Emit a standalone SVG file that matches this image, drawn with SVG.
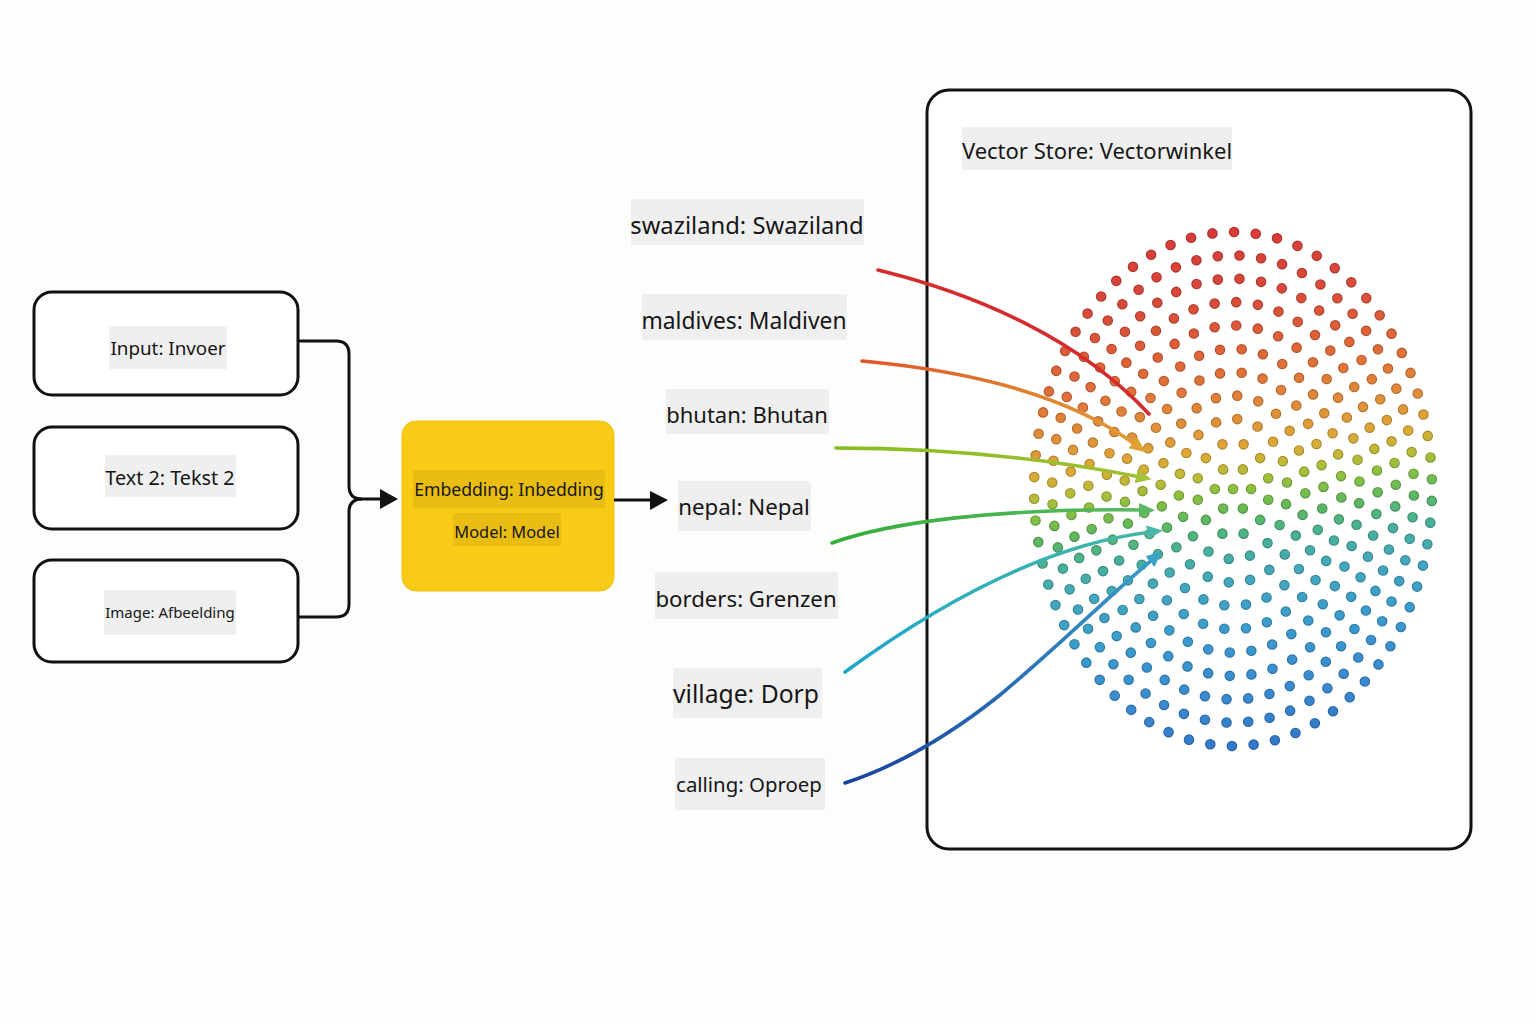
<svg xmlns="http://www.w3.org/2000/svg" xmlns:xlink="http://www.w3.org/1999/xlink" width="1536" height="1024" viewBox="0 0 1536 1024">
<style>
.box{fill:#fff;stroke:#111;stroke-width:3}
.bg{fill:#efefef}
.t{font-family:"Noto Sans","Open Sans","DejaVu Sans",sans-serif;fill:#161616;text-anchor:middle}
.conn{fill:none;stroke:#111;stroke-width:3}
.cl{fill:none;stroke-width:3.6;stroke-linecap:round}
</style>
<defs>
<linearGradient id="cloudGrad" gradientUnits="userSpaceOnUse" x1="1200" y1="220" x2="1268" y2="760">
<stop offset="0" stop-color="#d83838"/>
<stop offset="0.15" stop-color="#d84a3a"/>
<stop offset="0.27" stop-color="#e06a38"/>
<stop offset="0.36" stop-color="#e08c3a"/>
<stop offset="0.43" stop-color="#dcaa36"/>
<stop offset="0.47" stop-color="#b8bc38"/>
<stop offset="0.5" stop-color="#8cc040"/>
<stop offset="0.55" stop-color="#5cb860"/>
<stop offset="0.6" stop-color="#48b098"/>
<stop offset="0.66" stop-color="#44a8bc"/>
<stop offset="0.75" stop-color="#3a9ccc"/>
<stop offset="0.88" stop-color="#3a88d0"/>
<stop offset="1" stop-color="#2e74c8"/>
</linearGradient>
<g id="rings" fill="none" stroke-linecap="round">
<ellipse cx="1233" cy="489" rx="18.1" ry="23.4" pathLength="6" stroke-dasharray="0 1" stroke-dashoffset="0"/>
<ellipse cx="1233" cy="489" rx="36.2" ry="46.7" pathLength="12" stroke-dasharray="0 1" stroke-dashoffset="0.5"/>
<ellipse cx="1233" cy="489" rx="54.3" ry="70.1" pathLength="18" stroke-dasharray="0 1" stroke-dashoffset="0.3"/>
<ellipse cx="1233" cy="489" rx="72.4" ry="93.5" pathLength="24" stroke-dasharray="0 1" stroke-dashoffset="0.8"/>
<ellipse cx="1233" cy="489" rx="90.5" ry="116.8" pathLength="30" stroke-dasharray="0 1" stroke-dashoffset="0.1"/>
<ellipse cx="1233" cy="489" rx="108.5" ry="140.2" pathLength="36" stroke-dasharray="0 1" stroke-dashoffset="0.6"/>
<ellipse cx="1233" cy="489" rx="126.6" ry="163.5" pathLength="42" stroke-dasharray="0 1" stroke-dashoffset="0.35"/>
<ellipse cx="1233" cy="489" rx="144.7" ry="186.9" pathLength="48" stroke-dasharray="0 1" stroke-dashoffset="0.85"/>
<ellipse cx="1233" cy="489" rx="162.8" ry="210.3" pathLength="54" stroke-dasharray="0 1" stroke-dashoffset="0.2"/>
<ellipse cx="1233" cy="489" rx="180.9" ry="233.6" pathLength="60" stroke-dasharray="0 1" stroke-dashoffset="0.7"/>
<ellipse cx="1233" cy="489" rx="199" ry="257" pathLength="66" stroke-dasharray="0 1" stroke-dashoffset="0.45"/>
</g>
<mask id="mOuter" maskUnits="userSpaceOnUse" x="0" y="0" width="1536" height="1024">
<use xlink:href="#rings" href="#rings" stroke="#fff" stroke-width="10.6"/>
<circle cx="1233" cy="489" r="5.3" fill="#fff"/>
</mask>
<mask id="mInner" maskUnits="userSpaceOnUse" x="0" y="0" width="1536" height="1024">
<use xlink:href="#rings" href="#rings" stroke="#fff" stroke-width="8.4"/>
<circle cx="1233" cy="489" r="4.2" fill="#fff"/>
</mask>
<linearGradient id="gOr" gradientUnits="userSpaceOnUse" x1="862" y1="361" x2="1146" y2="452"><stop offset="0" stop-color="#e0552a"/><stop offset="1" stop-color="#e0a032"/></linearGradient>
<linearGradient id="gYg" gradientUnits="userSpaceOnUse" x1="836" y1="448" x2="1152" y2="479"><stop offset="0" stop-color="#86bc1e"/><stop offset="1" stop-color="#a2c034"/></linearGradient>
<linearGradient id="gGr" gradientUnits="userSpaceOnUse" x1="832" y1="543" x2="1155" y2="510"><stop offset="0" stop-color="#34ae3c"/><stop offset="1" stop-color="#5cb860"/></linearGradient>
<linearGradient id="gTe" gradientUnits="userSpaceOnUse" x1="845" y1="672" x2="1163" y2="530"><stop offset="0" stop-color="#1ea6cc"/><stop offset="1" stop-color="#48b8a4"/></linearGradient>
<linearGradient id="gBl" gradientUnits="userSpaceOnUse" x1="845" y1="783" x2="1162" y2="551"><stop offset="0" stop-color="#16409e"/><stop offset="1" stop-color="#3aa0cc"/></linearGradient>
<marker id="aOr" markerUnits="userSpaceOnUse" markerWidth="18" markerHeight="16" refX="4" refY="8" orient="auto"><path d="M0,1 L16,8 L0,15 Z" fill="#e0a032"/></marker>
<marker id="aYg" markerUnits="userSpaceOnUse" markerWidth="18" markerHeight="16" refX="4" refY="8" orient="auto"><path d="M0,1 L16,8 L0,15 Z" fill="#a6c03a"/></marker>
<marker id="aGr" markerUnits="userSpaceOnUse" markerWidth="18" markerHeight="16" refX="4" refY="8" orient="auto"><path d="M0,1 L16,8 L0,15 Z" fill="#5cb860"/></marker>
<marker id="aTe" markerUnits="userSpaceOnUse" markerWidth="18" markerHeight="16" refX="4" refY="8" orient="auto"><path d="M0,1 L16,8 L0,15 Z" fill="#4ab8a8"/></marker>
<marker id="aBl" markerUnits="userSpaceOnUse" markerWidth="18" markerHeight="16" refX="4" refY="8" orient="auto"><path d="M0,1 L16,8 L0,15 Z" fill="#3aa4c8"/></marker>
</defs>
<rect x="0" y="0" width="1536" height="1024" fill="#fdfdfb"/>

<g id="input-input">
<rect class="box" x="34" y="292" width="264" height="103" rx="18"/>
<rect class="bg" x="109" y="326" width="118" height="43"/>
<text class="t" x="168" y="355" font-size="18.8">Input: Invoer</text>
</g>
<g id="input-text2">
<rect class="box" x="34" y="427" width="264" height="102" rx="18"/>
<rect class="bg" x="105" y="455" width="131" height="42"/>
<text class="t" x="170" y="485" font-size="19.8">Text 2: Tekst 2</text>
</g>
<g id="input-image">
<rect class="box" x="34" y="560" width="264" height="102" rx="18"/>
<rect class="bg" x="104" y="590" width="132" height="45"/>
<text class="t" x="170" y="618" font-size="15">Image: Afbeelding</text>
</g>

<g id="embedding-model">
<rect x="402" y="421" width="212" height="170" rx="14" fill="#f7cb16" stroke="#efc010" stroke-width="1"/>
<rect x="413" y="470" width="192" height="38" fill="#e9bd12"/>
<text class="t" x="509" y="496" font-size="17.6">Embedding: Inbedding</text>
<rect x="453" y="513" width="108" height="33" fill="#e9bd12"/>
<text class="t" x="507" y="538" font-size="16.4">Model: Model</text>
</g>

<g id="vector-store">
<rect class="box" x="927" y="90" width="544" height="759" rx="22"/>
<rect class="bg" x="962" y="127" width="270" height="43"/>
<text class="t" x="1097" y="159" font-size="22">Vector Store: Vectorwinkel</text>
</g>

<g id="words">
<g id="w-swaziland"><rect class="bg" x="631" y="199" width="233" height="46"/><text class="t" x="747" y="234" font-size="23.8">swaziland: Swaziland</text></g>
<g id="w-maldives"><rect class="bg" x="642" y="294" width="205" height="46"/><text class="t" x="744" y="329" font-size="22.8">maldives: Maldiven</text></g>
<g id="w-bhutan"><rect class="bg" x="666" y="389" width="163" height="45"/><text class="t" x="747" y="423" font-size="22">bhutan: Bhutan</text></g>
<g id="w-nepal"><rect class="bg" x="678" y="481" width="133" height="50"/><text class="t" x="744" y="515" font-size="22.3">nepal: Nepal</text></g>
<g id="w-borders"><rect class="bg" x="655" y="572" width="183" height="47"/><text class="t" x="746" y="607" font-size="22.2">borders: Grenzen</text></g>
<g id="w-village"><rect class="bg" x="673" y="668" width="149" height="50"/><text class="t" x="746" y="703" font-size="24.7">village: Dorp</text></g>
<g id="w-calling"><rect class="bg" x="675" y="758" width="150" height="52"/><text class="t" x="749" y="792" font-size="20.4">calling: Oproep</text></g>
</g>

<g id="cloud">
<g mask="url(#mOuter)">
<rect x="1000" y="200" width="480" height="580" fill="url(#cloudGrad)"/>
<rect x="1000" y="200" width="480" height="580" fill="#000" opacity="0.2"/>
</g>
<rect x="1000" y="200" width="480" height="580" fill="url(#cloudGrad)" mask="url(#mInner)"/>
</g>

<g id="connectors">
<path class="conn" d="M298,341 H336 Q349,341 349,354 V486 Q349,499 362,499 H384"/>
<path class="conn" d="M298,617 H336 Q349,617 349,604 V512 Q349,499 362,499"/>
<polygon points="380,489 398,499 380,509" fill="#111"/>
<path class="conn" d="M614,500 H653"/>
<polygon points="650,491 668,500 650,510" fill="#111"/>

<path class="cl" d="M878,270 C980,295 1080,340 1149,414" stroke="#d42c2c"/>
<path class="cl" d="M862,361 C960,370 1066,393 1136,445" stroke="url(#gOr)" marker-end="url(#aOr)"/>
<path class="cl" d="M836,448 C950,448 1055,460 1140,477" stroke="url(#gYg)" marker-end="url(#aYg)"/>
<path class="cl" d="M832,543 C890,522 1000,508 1143,510" stroke="url(#gGr)" marker-end="url(#aGr)"/>
<path class="cl" d="M845,672 C930,610 1040,545 1151,532" stroke="url(#gTe)" marker-end="url(#aTe)"/>
<path class="cl" d="M845,783 C900,765 950,735 1000,695 C1060,645 1110,595 1153,559" stroke="url(#gBl)" marker-end="url(#aBl)"/>
</g>
</svg>
